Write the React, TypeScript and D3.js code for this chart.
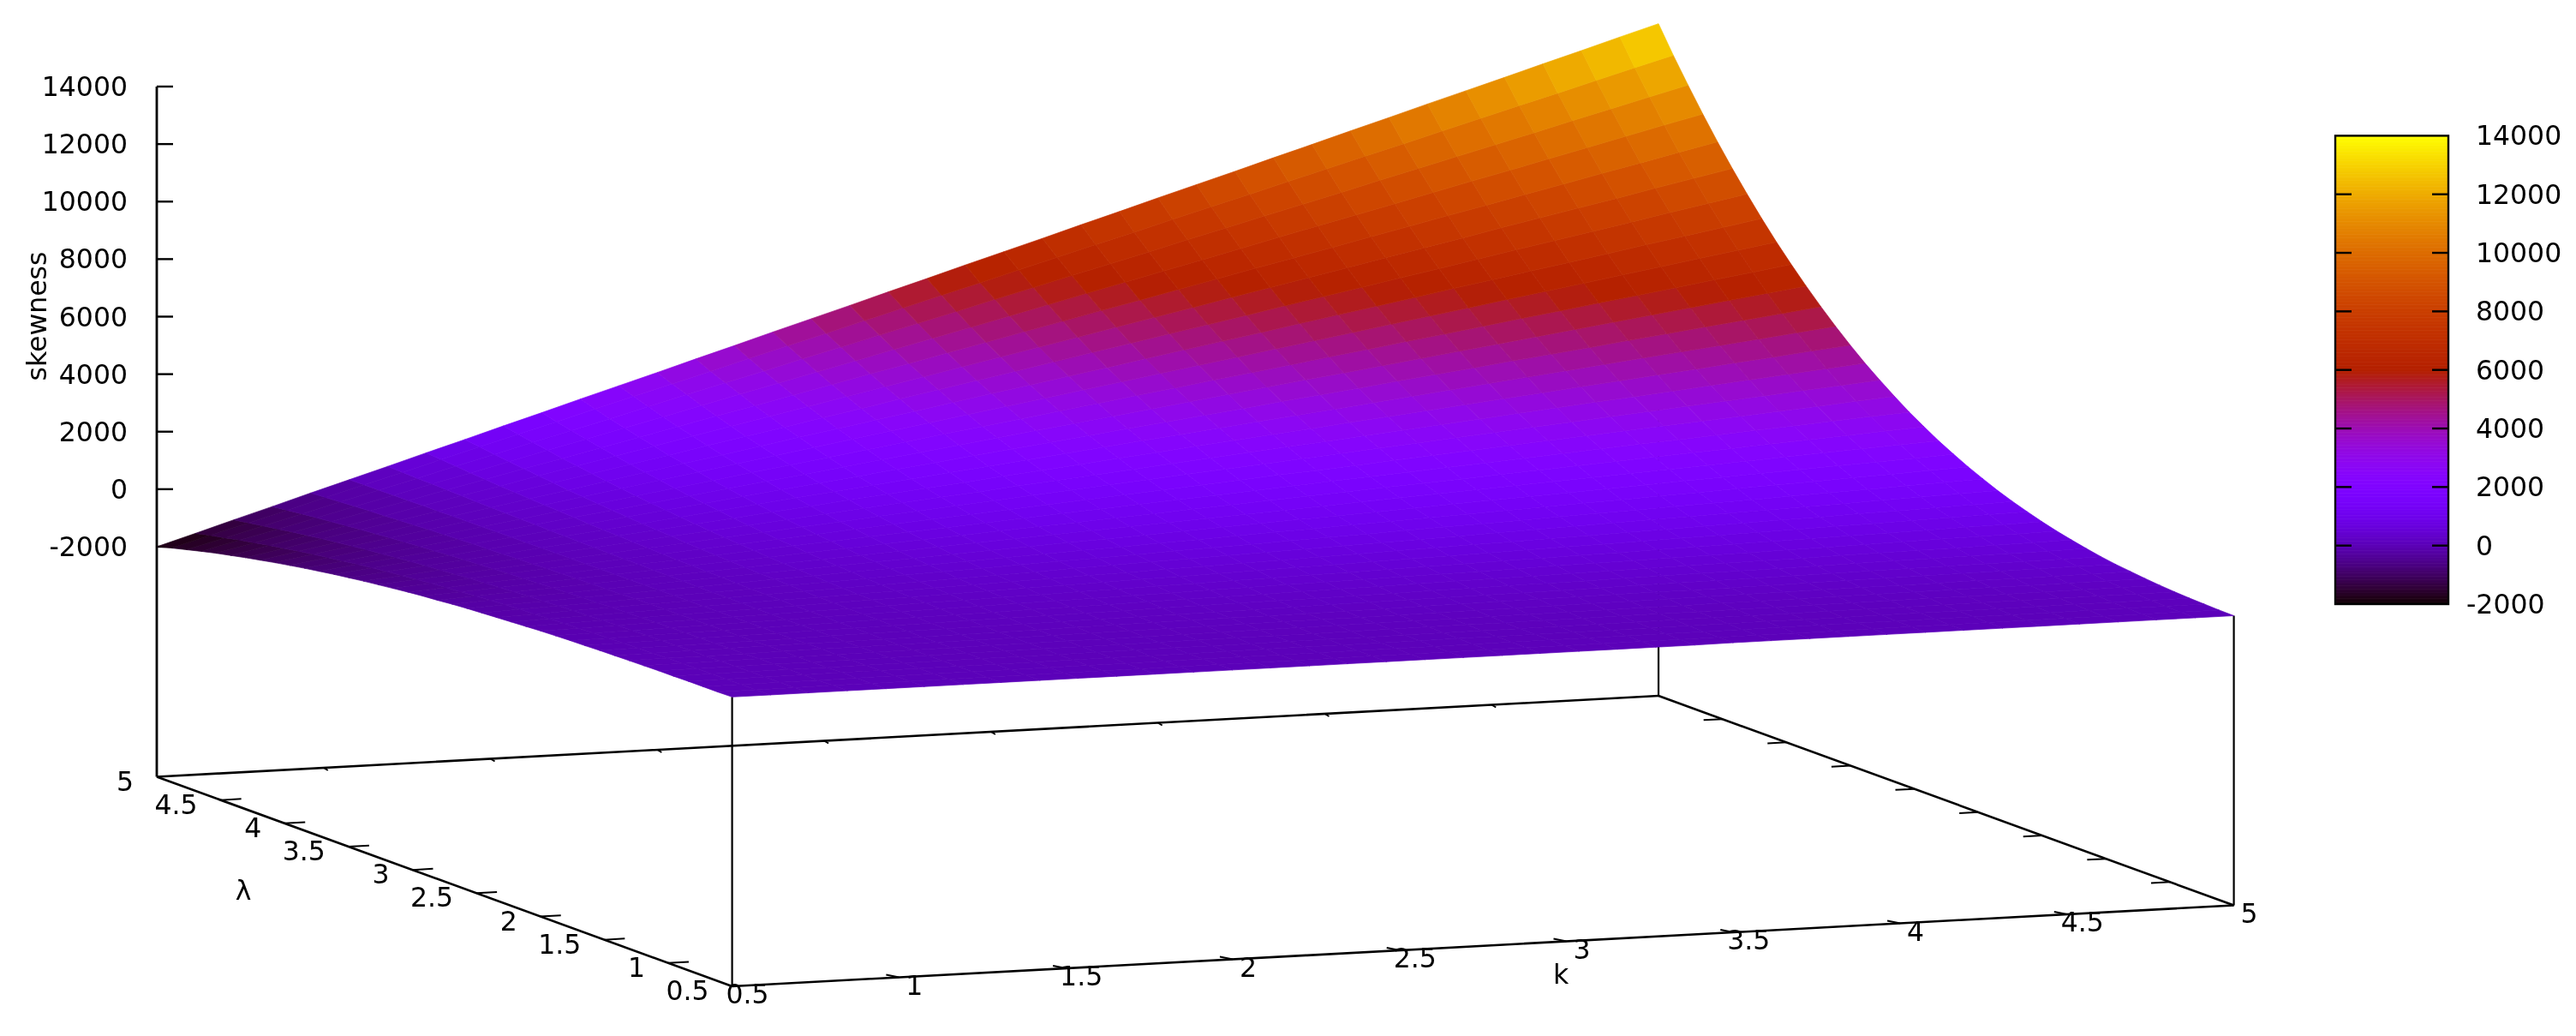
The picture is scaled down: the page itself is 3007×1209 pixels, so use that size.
import React from 'react';
import * as d3 from 'd3';

const W = 3007;
const H = 1209;

// sample positions on both ground axes (40 x 40 pm3d grid)
const kSamples = d3.range(40).map(j => 0.5 + (j * 4.5) / 39);
const lambdaSamples = d3.range(40).map(i => 0.5 + (i * 4.5) / 39);

const kTicks = [0.5, 1, 1.5, 2, 2.5, 3, 3.5, 4, 4.5, 5];
const lambdaTicks = [0.5, 1, 1.5, 2, 2.5, 3, 3.5, 4, 4.5, 5];
const zTicks = [-2000, 0, 2000, 4000, 6000, 8000, 10000, 12000, 14000];

// skewness, one row per lambda sample, one column per k sample
const surfaceZ = [
  [60,60,60,60,60,60,60,60,60,60,60,60,60,60,60,60,60,60,60,60,60,60,60,60,60,60,70,70,70,70,70,70,70,70,70,70,70,70,70,70],
  [50,50,50,60,60,60,60,60,60,60,60,60,60,60,60,60,60,70,70,70,70,70,70,70,70,70,70,70,70,70,80,80,80,80,80,80,80,80,80,80],
  [50,50,50,50,60,60,60,60,60,60,60,60,70,70,70,70,70,70,70,70,80,80,80,80,80,80,80,80,90,90,90,90,90,90,90,90,100,100,100,100],
  [50,50,50,50,60,60,60,60,60,60,70,70,70,70,70,80,80,80,80,80,90,90,90,90,90,100,100,100,100,100,100,110,110,110,110,110,120,120,120,120],
  [40,50,50,50,50,60,60,60,70,70,70,70,80,80,80,80,90,90,90,100,100,100,100,110,110,110,120,120,120,120,130,130,130,140,140,140,140,150,150,150],
  [40,40,40,50,50,60,60,60,70,70,80,80,80,90,90,100,100,100,110,110,120,120,120,130,130,140,140,140,150,150,160,160,160,170,170,170,180,180,190,190],
  [30,30,40,50,50,60,60,70,70,80,80,90,90,100,100,110,120,120,130,130,140,140,150,150,160,160,170,170,180,180,190,200,200,210,210,220,220,230,230,240],
  [20,30,30,40,50,60,60,70,80,80,90,100,110,110,120,130,130,140,150,150,160,170,180,180,190,200,200,210,220,230,230,240,250,250,260,270,270,280,290,300],
  [10,20,30,40,50,60,60,70,80,90,100,110,120,130,140,150,160,160,170,180,190,200,210,220,230,240,250,260,260,270,280,290,300,310,320,330,340,350,360,360],
  [0,10,20,30,40,50,70,80,90,100,110,120,130,150,160,170,180,190,200,220,230,240,250,260,270,280,300,310,320,330,340,350,360,380,390,400,410,420,430,440],
  [-20,0,10,30,40,50,70,80,100,110,130,140,150,170,180,200,210,230,240,250,270,280,300,310,330,340,350,370,380,400,410,420,440,450,470,480,500,510,520,540],
  [-30,-20,0,20,40,50,70,90,110,120,140,160,180,190,210,230,250,260,280,300,320,330,350,370,390,400,420,440,460,470,490,510,520,540,560,580,590,610,630,650],
  [-50,-30,-10,10,30,50,70,100,120,140,160,180,200,220,240,260,280,310,330,350,370,390,410,430,450,470,500,520,540,560,580,600,620,640,660,690,710,730,750,770],
  [-70,-50,-20,0,30,50,80,100,130,150,180,200,230,250,280,300,330,350,380,400,430,450,480,500,530,560,580,610,630,660,680,710,730,760,780,810,830,860,880,910],
  [-100,-70,-40,-10,20,50,80,110,140,170,200,230,260,290,320,350,380,410,440,470,500,530,560,590,620,650,680,710,740,770,800,830,860,890,920,950,980,1010,1040,1070],
  [-130,-90,-60,-20,10,50,80,120,150,190,220,260,290,330,360,400,430,470,500,540,570,610,640,680,710,750,780,820,850,890,920,960,990,1030,1060,1100,1130,1170,1200,1240],
  [-160,-120,-70,-30,10,50,90,130,170,210,250,290,330,370,410,460,500,540,580,620,660,700,740,780,820,860,900,940,980,1030,1070,1110,1150,1190,1230,1270,1310,1350,1390,1430],
  [-190,-140,-90,-50,0,50,90,140,190,230,280,330,380,420,470,520,560,610,660,710,750,800,850,890,940,990,1030,1080,1130,1180,1220,1270,1320,1360,1410,1460,1500,1550,1600,1650],
  [-220,-170,-120,-60,-10,50,100,150,210,260,320,370,420,480,530,590,640,690,750,800,860,910,960,1020,1070,1120,1180,1230,1290,1340,1390,1450,1500,1560,1610,1660,1720,1770,1830,1880],
  [-260,-200,-140,-80,-20,40,110,170,230,290,350,410,470,540,600,660,720,780,840,910,970,1030,1090,1150,1210,1270,1340,1400,1460,1520,1580,1640,1710,1770,1830,1890,1950,2010,2070,2140],
  [-310,-240,-170,-100,-30,40,110,180,250,320,390,460,530,600,670,740,810,880,950,1020,1090,1160,1230,1300,1370,1440,1510,1580,1650,1720,1790,1860,1930,2000,2070,2140,2210,2280,2350,2410],
  [-350,-280,-200,-120,-40,40,120,200,280,350,430,510,590,670,750,830,910,980,1060,1140,1220,1300,1380,1460,1540,1620,1690,1770,1850,1930,2010,2090,2170,2250,2320,2400,2480,2560,2640,2720],
  [-400,-320,-230,-140,-50,40,130,210,300,390,480,570,660,740,830,920,1010,1100,1190,1280,1360,1450,1540,1630,1720,1810,1890,1980,2070,2160,2250,2340,2430,2510,2600,2690,2780,2870,2960,3040],
  [-460,-360,-260,-160,-60,30,130,230,330,430,530,630,730,830,930,1020,1120,1220,1320,1420,1520,1620,1720,1820,1910,2010,2110,2210,2310,2410,2510,2610,2710,2810,2900,3000,3100,3200,3300,3400],
  [-520,-410,-300,-190,-80,30,140,250,360,470,580,690,800,920,1030,1140,1250,1360,1470,1580,1690,1800,1910,2020,2130,2240,2350,2460,2570,2680,2790,2900,3010,3120,3230,3340,3450,3560,3670,3780],
  [-580,-460,-340,-220,-90,30,150,270,400,520,640,760,890,1010,1130,1250,1370,1500,1620,1740,1860,1990,2110,2230,2350,2470,2600,2720,2840,2960,3090,3210,3330,3450,3570,3700,3820,3940,4060,4180],
  [-650,-510,-380,-240,-110,30,160,300,430,570,700,840,970,1110,1240,1380,1510,1650,1780,1920,2060,2190,2330,2460,2600,2730,2870,3000,3140,3270,3410,3540,3680,3810,3950,4080,4220,4350,4490,4620],
  [-720,-570,-420,-270,-130,20,170,320,470,620,770,920,1070,1220,1370,1510,1660,1810,1960,2110,2260,2410,2560,2710,2860,3000,3150,3300,3450,3600,3750,3900,4050,4200,4350,4490,4640,4790,4940,5090],
  [-800,-630,-470,-310,-140,20,180,350,510,680,840,1000,1170,1330,1490,1660,1820,1990,2150,2310,2480,2640,2800,2970,3130,3300,3460,3620,3790,3950,4110,4280,4440,4600,4770,4930,5100,5260,5420,5590],
  [-880,-700,-520,-340,-160,20,200,380,560,730,910,1090,1270,1450,1630,1810,1990,2170,2350,2530,2710,2890,3070,3250,3430,3610,3790,3960,4140,4320,4500,4680,4860,5040,5220,5400,5580,5760,5940,6120],
  [-970,-770,-570,-380,-180,10,210,410,600,800,990,1190,1390,1580,1780,1970,2170,2370,2560,2760,2950,3150,3350,3540,3740,3930,4130,4330,4520,4720,4910,5110,5310,5500,5700,5890,6090,6290,6480,6680],
  [-1060,-840,-630,-420,-200,10,220,440,650,860,1080,1290,1510,1720,1930,2150,2360,2570,2790,3000,3210,3430,3640,3860,4070,4280,4500,4710,4920,5140,5350,5560,5780,5990,6200,6420,6630,6850,7060,7270],
  [-1160,-920,-690,-460,-230,10,240,470,700,940,1170,1400,1630,1860,2100,2330,2560,2790,3030,3260,3490,3720,3950,4190,4420,4650,4880,5120,5350,5580,5810,6050,6280,6510,6740,6970,7210,7440,7670,7900],
  [-1260,-1010,-750,-500,-250,0,250,510,760,1010,1260,1510,1770,2020,2270,2520,2770,3030,3280,3530,3780,4030,4290,4540,4790,5040,5290,5550,5800,6050,6300,6550,6810,7060,7310,7560,7810,8070,8320,8570],
  [-1370,-1090,-820,-550,-280,0,270,540,820,1090,1360,1630,1910,2180,2450,2720,3000,3270,3540,3820,4090,4360,4630,4910,5180,5450,5730,6000,6270,6540,6820,7090,7360,7640,7910,8180,8450,8730,9000,9270],
  [-1480,-1190,-890,-600,-300,-10,290,580,880,1170,1470,1760,2050,2350,2640,2940,3230,3530,3820,4120,4410,4710,5000,5300,5590,5890,6180,6480,6770,7060,7360,7650,7950,8240,8540,8830,9130,9420,9720,10010],
  [-1600,-1280,-970,-650,-330,-10,310,620,940,1260,1580,1890,2210,2530,2850,3170,3480,3800,4120,4440,4750,5070,5390,5710,6030,6340,6660,6980,7300,7620,7930,8250,8570,8890,9200,9520,9840,10160,10480,10790],
  [-1730,-1390,-1050,-700,-360,-20,320,670,1010,1350,1690,2030,2380,2720,3060,3400,3750,4090,4430,4770,5110,5460,5800,6140,6480,6820,7170,7510,7850,8190,8530,8880,9220,9560,9900,10240,10590,10930,11270,11610],
  [-1860,-1490,-1130,-760,-390,-20,340,710,1080,1450,1810,2180,2550,2910,3280,3650,4020,4380,4750,5120,5490,5850,6220,6590,6960,7320,7690,8060,8420,8790,9160,9530,9890,10260,10630,11000,11360,11730,12100,12460],
  [-2000,-1610,-1210,-820,-420,-30,360,760,1150,1550,1940,2340,2730,3120,3520,3910,4310,4700,5090,5490,5880,6280,6670,7060,7460,7850,8250,8640,9030,9430,9820,10220,10610,11010,11400,11790,12190,12580,12980,13370],
];

// ground plane corners: k=.5/l=.5 is the near corner
const corner = { x: 854.6, y: 1151 };
const kVec = { x: 1753, y: -94.5 };
const lambdaVec = { x: -671.6, y: -244.5 };

const kFrac = d3.scaleLinear().domain([0.5, 5]).range([0, 1]);
const lambdaFrac = d3.scaleLinear().domain([0.5, 5]).range([0, 1]);
// height above the ground plane, which sits at z = -10000
const zLift = d3.scaleLinear().domain([-10000, 14000]).range([0, 805.5]);
const cbY = d3.scaleLinear().domain([-2000, 14000]).range([705, 158.4]);

const project = (k: number, l: number, z: number): [number, number] => {
  const a = kFrac(k);
  const b = lambdaFrac(l);
  return [corner.x + a * kVec.x + b * lambdaVec.x, corner.y + a * kVec.y + b * lambdaVec.y - zLift(z)];
};
const ground = (k: number, l: number) => project(k, l, -10000);

// gnuplot default palette (rgbformulae 7,5,15)
const clamp = (v: number) => Math.max(0, Math.min(1, v));
const palette = (z: number) => {
  const x = clamp((z + 2000) / 16000);
  return d3.rgb(255 * Math.sqrt(x), 255 * x * x * x, 255 * clamp(Math.sin(2 * Math.PI * x))).formatHex();
};

const line = d3.line();
const font = "'DejaVu Sans', sans-serif";
const ink = '#000';

const Seg = ({ a, b, w = 2.6 }: { a: number[]; b: number[]; w?: number }) => (
  <line x1={a[0]} y1={a[1]} x2={b[0]} y2={b[1]} stroke={ink} strokeWidth={w} />
);

const Label = (props: any) => (
  <text fontFamily={font} fontSize={31.5} fill={ink} dominantBaseline="central" {...props} />
);

export default function App() {
  const facets: { d: string; fill: string }[] = [];
  for (let i = 0; i < 39; i++) {
    for (let j = 0; j < 39; j++) {
      const zs = [surfaceZ[i][j], surfaceZ[i][j + 1], surfaceZ[i + 1][j + 1], surfaceZ[i + 1][j]];
      const pts = [
        project(kSamples[j], lambdaSamples[i], zs[0]),
        project(kSamples[j + 1], lambdaSamples[i], zs[1]),
        project(kSamples[j + 1], lambdaSamples[i + 1], zs[2]),
        project(kSamples[j], lambdaSamples[i + 1], zs[3]),
      ];
      facets.push({ d: line(pts) + 'Z', fill: palette(d3.mean(zs) as number) });
    }
  }

  const barSteps = d3.range(-2000, 14000, 40);

  return (
    <svg width={W} height={H} style={{ position: 'absolute', left: 0, top: 0, background: '#fff' }}>
      {/* the reference is a slightly soft upscaled raster */}
      <defs>
        <filter id="soft" x="0" y="0" width={W} height={H} filterUnits="userSpaceOnUse" colorInterpolationFilters="sRGB">
          <feGaussianBlur stdDeviation="0.7" />
        </filter>
      </defs>
      <g filter="url(#soft)">
        <rect width={W} height={H} fill="#fff" />
        {/* box behind the surface */}
        <Seg a={ground(0.5, 5)} b={ground(5, 5)} />
        <Seg a={ground(5, 5)} b={ground(5, 0.5)} />
        <Seg a={ground(0.5, 0.5)} b={ground(5, 0.5)} />
        <Seg a={ground(0.5, 0.5)} b={ground(0.5, 5)} />
        <Seg a={ground(5, 5)} b={project(5, 5, 0)} w={2.2} />
        <Seg a={ground(0.5, 0.5)} b={project(0.5, 0.5, surfaceZ[0][0])} w={2.2} />
        <Seg a={ground(5, 0.5)} b={project(5, 0.5, surfaceZ[0][39])} w={2.2} />

        {/* k ticks, front and back edge */}
        {kTicks.slice(1, -1).map(t => {
          const p = ground(t, 0.5);
          const q = ground(t, 5);
          return (
            <g key={t}>
              <Seg a={p} b={[p[0] - 15, p[1] - 3]} w={2} />
              <Seg a={q} b={[q[0] + 5, q[1] + 3]} w={2} />
            </g>
          );
        })}
        {kTicks.map(t => {
          const p = ground(t, 0.5);
          return <Label key={t} x={p[0] + 18} y={p[1] + 9} textAnchor="middle">{t}</Label>;
        })}

        {/* lambda ticks, left and right edge */}
        {lambdaTicks.slice(1, -1).map(t => {
          const p = ground(0.5, t);
          const q = ground(5, t);
          return (
            <g key={t}>
              <Seg a={p} b={[p[0] + 24, p[1] - 1.3]} w={2} />
              <Seg a={q} b={[q[0] - 22, q[1] + 1.2]} w={2} />
            </g>
          );
        })}
        {lambdaTicks.map(t => {
          const p = ground(0.5, t);
          return <Label key={t} x={p[0] - 27} y={p[1] + 5} textAnchor="end">{t}</Label>;
        })}

        {/* z axis */}
        <line x1={183} y1={906.5 - zLift(14000)} x2={183} y2={906.5} stroke={ink} strokeWidth={2.8} />
        {zTicks.map(t => {
          const y = 906.5 - zLift(t);
          return (
            <g key={t}>
              <line x1={183} y1={y} x2={202} y2={y} stroke={ink} strokeWidth={2.4} />
              <Label x={149} y={y} textAnchor="end">{t}</Label>
            </g>
          );
        })}

        {/* surface */}
        <g>
          {facets.map((f, i) => (
            <path key={i} d={f.d} fill={f.fill} stroke={f.fill} strokeWidth={0.7} strokeLinejoin="round" />
          ))}
        </g>

        <Label x={43} y={369} textAnchor="middle" transform="rotate(-90 43 369)">skewness</Label>
        <Label x={284} y={1039} textAnchor="middle">λ</Label>
        <Label x={1822} y={1137} textAnchor="middle">k</Label>

        {/* colour box */}
        {barSteps.map(v => (
          <rect key={v} x={2726} y={cbY(v + 40)} width={132} height={cbY(v) - cbY(v + 40) + 0.6} fill={palette(v + 20)} />
        ))}
        <rect x={2726} y={158.4} width={132} height={546.6} fill="none" stroke={ink} strokeWidth={2.4} />
        {zTicks.map(t => (
          <g key={t}>
            {t > -2000 && t < 14000 && (
              <>
                <line x1={2726} x2={2745} y1={cbY(t)} y2={cbY(t)} stroke={ink} strokeWidth={2.4} />
                <line x1={2839} x2={2858} y1={cbY(t)} y2={cbY(t)} stroke={ink} strokeWidth={2.4} />
              </>
            )}
            <Label x={t < 0 ? 2879 : 2890} y={cbY(t)}>{t}</Label>
          </g>
        ))}
      </g>
    </svg>
  );
}
